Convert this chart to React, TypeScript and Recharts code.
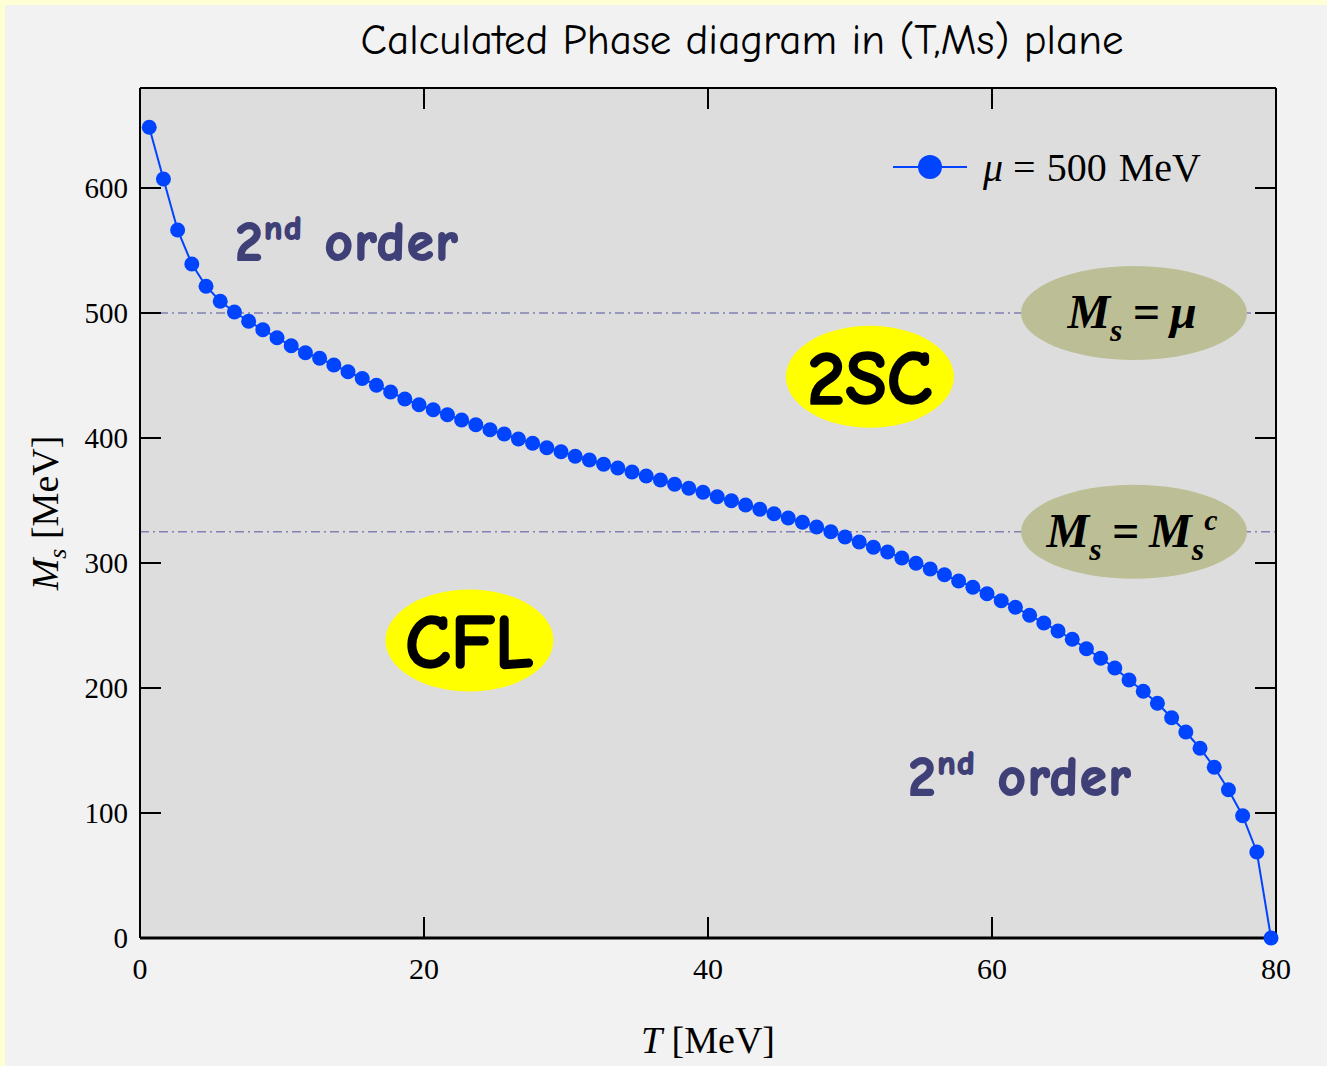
import { LineChart, Line, XAxis, YAxis, CartesianGrid, ReferenceLine, ReferenceDot, Legend } from 'recharts'

// Phase boundary in the (T, Ms) plane at mu = 500 MeV
const temperatures = [
  0.65, 1.65, 2.65, 3.65, 4.65, 5.65, 6.65, 7.65, 8.65, 9.65,
  10.65, 11.65, 12.65, 13.65, 14.65, 15.65, 16.65, 17.65, 18.65, 19.65,
  20.65, 21.65, 22.65, 23.65, 24.65, 25.65, 26.65, 27.65, 28.65, 29.65,
  30.65, 31.65, 32.65, 33.65, 34.65, 35.65, 36.65, 37.65, 38.65, 39.65,
  40.65, 41.65, 42.65, 43.65, 44.65, 45.65, 46.65, 47.65, 48.65, 49.65,
  50.65, 51.65, 52.65, 53.65, 54.65, 55.65, 56.65, 57.65, 58.65, 59.65,
  60.65, 61.65, 62.65, 63.65, 64.65, 65.65, 66.65, 67.65, 68.65, 69.65,
  70.65, 71.65, 72.65, 73.65, 74.65, 75.65, 76.65, 77.65, 78.65, 79.65,
]
const strangeMass = [
  648.6, 607.2, 566.4, 539.2, 521.4, 509.4, 500.8, 493.4, 486.6, 480.2,
  473.8, 468.2, 463.8, 458.4, 453.0, 447.6, 442.2, 436.8, 431.2, 426.6,
  422.6, 418.6, 414.4, 410.6, 406.6, 403.2, 399.2, 395.8, 392.2, 389.0,
  385.4, 382.4, 379.0, 376.0, 372.8, 369.6, 366.4, 363.0, 359.8, 356.6,
  353.0, 349.8, 346.4, 343.0, 339.4, 336.0, 332.6, 328.8, 325.0, 320.8,
  316.8, 312.6, 308.8, 304.0, 299.8, 295.2, 290.6, 285.6, 280.6, 275.4,
  269.8, 264.6, 258.2, 252.0, 245.6, 239.0, 231.4, 223.8, 216.0, 206.4,
  197.4, 187.8, 176.2, 164.8, 151.8, 136.6, 118.6, 97.8, 68.8, 0,
]
const tTicks = [0, 20, 40, 60, 80]
const msTicks = [0, 100, 200, 300, 400, 500, 600]
const MU = 500
const MS_CRITICAL = 325

const data = temperatures.map((t, i) => ({ t, ms: strangeMass[i] }))

const BLUE = '#0044ff'
const GUIDE = '#8080b4'
const OLIVE = '#bcbf95'
const INK = '#404078'
const serif = '"Liberation Serif", "Times New Roman", serif'
const comic = '"Comic Sans MS", "Comic Neue", Lato, sans-serif'

const TICK_LEN = 21

function BottomTick({ x, y, payload }: any) {
  const v = payload.value
  return (
    <g>
      {v !== 0 && v !== 80 && <line x1={x} x2={x} y1={y} y2={y - TICK_LEN} stroke="#000" strokeWidth={2} />}
      <text x={x} y={y + 41} textAnchor="middle" fontFamily={serif} fontSize={30} fill="#000">{v}</text>
    </g>
  )
}

function TopTick({ x, y, payload }: any) {
  const v = payload.value
  if (v === 0 || v === 80) return <g />
  return <line x1={x} x2={x} y1={y} y2={y + TICK_LEN} stroke="#000" strokeWidth={2} />
}

function LeftTick({ x, y, payload }: any) {
  const v = payload.value
  return (
    <g>
      {v !== 0 && <line x1={x} x2={x + TICK_LEN} y1={y} y2={y} stroke="#000" strokeWidth={2} />}
      <text x={x - 12} y={y + 10} textAnchor="end" fontFamily={serif} fontSize={29} fill="#000">{v}</text>
    </g>
  )
}

function RightTick({ x, y, payload }: any) {
  if (payload.value === 0) return <g />
  return <line x1={x} x2={x - TICK_LEN} y1={y} y2={y} stroke="#000" strokeWidth={2} />
}

function XTitle({ viewBox }: any) {
  const cx = viewBox.x + viewBox.width / 2
  return (
    <text x={cx} y={viewBox.y + 115} textAnchor="middle" fontFamily={serif} fontSize={38} fill="#000">
      <tspan fontStyle="italic">T</tspan> [MeV]
    </text>
  )
}

function YTitle({ viewBox }: any) {
  const cy = viewBox.y + viewBox.height / 2
  const cx = 46
  return (
    <text x={cx} y={cy} dy={12} transform={`rotate(-90, ${cx}, ${cy})`} textAnchor="middle" fontFamily={serif} fontSize={38} fill="#000">
      <tspan fontStyle="italic">M</tspan>
      <tspan fontStyle="italic" fontSize={26} dy={8}>s</tspan>
      <tspan dy={-8}> [MeV]</tspan>
    </text>
  )
}

// olive badges with a formula, sitting on the dash-dot guides
function MsEqualsMu({ cx, cy }: any) {
  return (
    <g>
      <ellipse cx={cx} cy={cy} rx={113} ry={47} fill={OLIVE} />
      <text x={cx - 2} y={cy + 15} textAnchor="middle" fontFamily={serif} fontSize={48} fontWeight="bold" fontStyle="italic" fill="#000">
        M<tspan fontSize={32} dy={13}>s</tspan><tspan dy={-13} dx={10}>=</tspan><tspan dx={10}>μ</tspan>
      </text>
    </g>
  )
}

function MsEqualsCritical({ cx, cy }: any) {
  return (
    <g>
      <ellipse cx={cx} cy={cy} rx={113} ry={47} fill={OLIVE} />
      <text x={cx - 2} y={cy + 15} textAnchor="middle" fontFamily={serif} fontSize={48} fontWeight="bold" fontStyle="italic" fill="#000">
        M<tspan fontSize={32} dy={13}>s</tspan><tspan dy={-13} dx={10}>=</tspan><tspan dx={10}>M</tspan>
        <tspan fontSize={32} dy={13}>s</tspan><tspan fontSize={30} dy={-30}>c</tspan>
      </text>
    </g>
  )
}

function PhaseBadge({ cx, cy, text }: any) {
  return (
    <g>
      <ellipse cx={cx} cy={cy} rx={84} ry={51} fill="#ffff00" />
      <text x={cx} y={cy + 27} textAnchor="middle" fontFamily={comic} fontSize={76} fontWeight={900}
        fill="#000" stroke="#000" strokeWidth={1.5} strokeLinejoin="round">{text}</text>
    </g>
  )
}

function OrderLabel({ cx, cy }: any) {
  return (
    <text x={cx} y={cy + 19} textAnchor="middle" fontFamily={comic} fontSize={54} fontWeight={900} letterSpacing={2}
      fill={INK} stroke={INK} strokeWidth={2} strokeLinejoin="round">
      2<tspan fontSize={33} dy={-21}>nd</tspan><tspan dy={21}> order</tspan>
    </text>
  )
}

function LegendBox() {
  return (
    <div style={{ display: 'flex', alignItems: 'center', height: 40, fontFamily: serif, fontSize: 40, color: '#000' }}>
      <svg width={74} height={26}>
        <line x1={0} x2={74} y1={13} y2={13} stroke={BLUE} strokeWidth={2} />
        <circle cx={37} cy={13} r={12} fill={BLUE} />
      </svg>
      <span style={{ marginLeft: 16, whiteSpace: 'nowrap' }}>
        <i>μ</i>
        <span style={{ margin: '0 11px 0 10px' }}>=</span>
        500<span style={{ marginLeft: 12 }}>MeV</span>
      </span>
    </div>
  )
}

export default function App() {
  return (
    <div style={{ position: 'absolute', left: 0, top: 0, width: 1327, height: 1066, background: '#ffffd6', overflow: 'hidden' }}>
      <div style={{ position: 'absolute', left: 5, top: 5, right: 0, bottom: 0, background: '#f2f2f2' }} />
      <div style={{ position: 'absolute', left: 242, top: 15, width: 1000, textAlign: 'center', fontFamily: comic, fontSize: 43, lineHeight: '50px', color: '#000' }}>
        Calculated Phase diagram in (T,Ms) plane
      </div>
      <div style={{ position: 'absolute', left: 0, top: 0 }}>
        <LineChart width={1327} height={1066} data={data} margin={{ top: 87, right: 50, bottom: 0, left: 0 }}>
          <CartesianGrid fill="#dddddd" horizontal={false} vertical={false} />
          <XAxis dataKey="t" type="number" domain={[0, 80]} ticks={tTicks} height={128}
            axisLine={{ stroke: '#000', strokeWidth: 3 }} tickLine={false} tickSize={0} tickMargin={0}
            tick={BottomTick} interval={0} label={{ content: XTitle }} />
          <XAxis xAxisId="top" dataKey="t" orientation="top" type="number" domain={[0, 80]} ticks={tTicks} height={1}
            axisLine={{ stroke: '#000', strokeWidth: 2 }} tickLine={false} tickSize={0} tickMargin={0}
            tick={TopTick} interval={0} />
          <YAxis type="number" domain={[0, 680]} ticks={msTicks} width={140}
            axisLine={{ stroke: '#000', strokeWidth: 2 }} tickLine={false} tickSize={0} tickMargin={0}
            tick={LeftTick} interval={0} label={{ content: YTitle }} />
          <YAxis yAxisId="right" dataKey="ms" orientation="right" type="number" domain={[0, 680]} ticks={msTicks} width={1}
            axisLine={{ stroke: '#000', strokeWidth: 2 }} tickLine={false} tickSize={0} tickMargin={0}
            tick={RightTick} interval={0} />
          <ReferenceLine y={MU} stroke={GUIDE} strokeWidth={1.5} strokeDasharray="9 4 2 4" />
          <ReferenceLine y={MS_CRITICAL} stroke={GUIDE} strokeWidth={1.5} strokeDasharray="9 4 2 4" />
          <ReferenceDot x={70} y={MU} r={1} shape={MsEqualsMu} />
          <ReferenceDot x={70} y={MS_CRITICAL} r={1} shape={MsEqualsCritical} />
          <ReferenceDot x={51.4} y={449} r={1} shape={(p: any) => <PhaseBadge {...p} text="2SC" />} />
          <ReferenceDot x={23.2} y={238} r={1} shape={(p: any) => <PhaseBadge {...p} text="CFL" />} />
          <ReferenceDot x={14.6} y={558} r={1} shape={OrderLabel} />
          <ReferenceDot x={62} y={130} r={1} shape={OrderLabel} />
          <Line type="linear" dataKey="ms" name="μ = 500 MeV" stroke={BLUE} strokeWidth={2}
            dot={{ r: 7.5, fill: BLUE, stroke: 'none', strokeWidth: 0 }} isAnimationActive={false} />
          <Legend layout="horizontal" verticalAlign="middle" align="center" content={LegendBox}
            wrapperStyle={{ top: 147, left: 893, width: 400, height: 40 }} />
        </LineChart>
      </div>
    </div>
  )
}
